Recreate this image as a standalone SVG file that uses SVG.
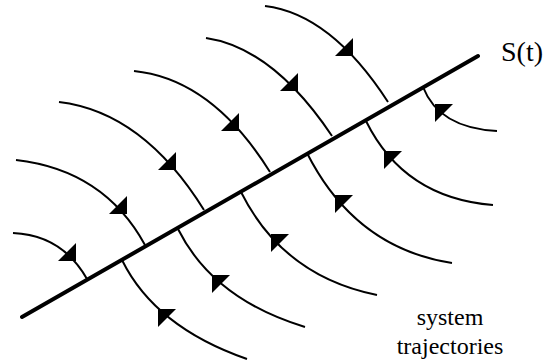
<svg xmlns="http://www.w3.org/2000/svg" width="552" height="362" viewBox="0 0 552 362">
<style>
.traj{fill:none;stroke:#000;stroke-width:2;}
.surf{fill:none;stroke:#000;stroke-width:4;stroke-linecap:round;}
.lbl{font-family:"Liberation Serif","Times New Roman",serif;fill:#000;}
</style>
<defs>
<path id="ad" d="M0,0 L-18,0 L0,-18 Z" fill="#000"/>
<path id="au" d="M0,0 L18,0 L0,18 Z" fill="#000"/>
</defs>
<g id="connectors">
<path class="traj" d="M13,233 Q62,235 87,279"/>
<path class="traj" d="M16,160 Q104,170 145,245"/>
<path class="traj" d="M59,102 Q143,112 204,210"/>
<path class="traj" d="M134,71 Q212,79 270,172"/>
<path class="traj" d="M206,38 Q273,48 332,136"/>
<path class="traj" d="M265,6 Q331,14 388,102"/>
<path class="traj" d="M122,260 Q155,327 247,359"/>
<path class="traj" d="M178,229 Q213,299 305,327"/>
<path class="traj" d="M241,192 Q283,276 377,295"/>
<path class="traj" d="M307,153 Q355,248 452,263"/>
<path class="traj" d="M366,121 Q404,198 493,205"/>
<path class="traj" d="M423,87 Q439,128 497,131"/>
<use href="#ad" x="76" y="261"/>
<use href="#ad" x="127" y="214"/>
<use href="#ad" x="176" y="170"/>
<use href="#ad" x="239" y="131"/>
<use href="#ad" x="298" y="91"/>
<use href="#ad" x="353" y="56"/>
<use href="#au" x="158" y="309"/>
<use href="#au" x="212" y="275"/>
<use href="#au" x="271" y="234"/>
<use href="#au" x="335" y="195"/>
<use href="#au" x="384" y="151"/>
<use href="#au" x="435" y="104"/>
</g>
<g id="surface">
<line class="surf" x1="22" y1="317" x2="478" y2="56"/>
<text class="lbl" x="501" y="60.5" font-size="28">S(t)</text>
</g>
<g id="label">
<text class="lbl" x="450" y="324.5" font-size="24" text-anchor="middle">system</text>
<text class="lbl" x="450" y="354" font-size="24" text-anchor="middle">trajectories</text>
</g>
</svg>
